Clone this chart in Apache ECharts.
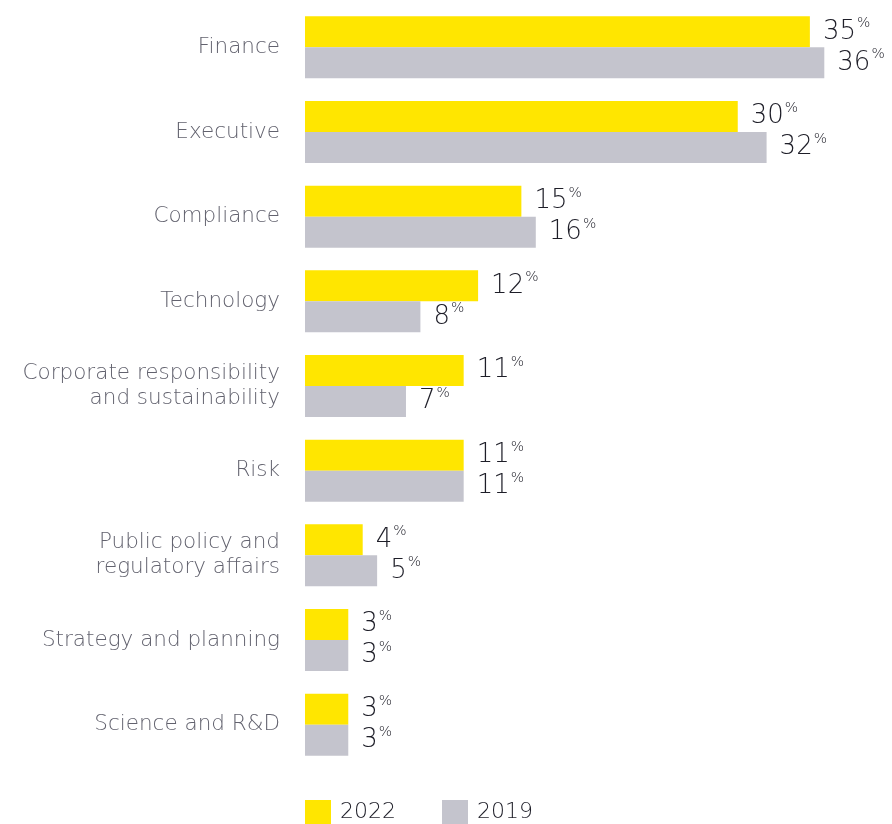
<!DOCTYPE html>
<html><head><meta charset="utf-8">
<script src="https://cdn.jsdelivr.net/npm/echarts@6/dist/echarts.min.js"></script>
<style>html,body{margin:0;padding:0;background:#fff}#c{width:892px;height:824px}</style>
</head><body><div id="c"></div>
<script>
const categories = ["Finance","Executive","Compliance","Technology","Corporate responsibility\nand sustainability","Risk","Public policy and\nregulatory affairs","Strategy and planning","Science and R&D"];
const values2022 = [35,30,15,12,11,11,4,3,3];
const values2019 = [36,32,16,8,7,11,5,3,3];
const seriesNames = ["2022","2019"];

const FONT = "'DejaVu Sans', sans-serif";
const labelCfg = {
  show: true, position: 'right', distance: 13,
  formatter: p => '{n|' + p.value + '}{p|%}',
  rich: {
    n: {fontSize: 26, color: '#1e1e28', fontFamily: FONT, fontWeight: 300, lineHeight: 30},
    p: {fontSize: 14, color: '#1e1e28', fontFamily: FONT, fontWeight: 300, verticalAlign: 'top', lineHeight: 30, padding: [0,0,10,1]}
  }
};
const chart = echarts.init(document.getElementById('c'));
chart.setOption({
  animation: false,
  grid: {left: 305, right: 10, top: 5, bottom: 57, containLabel: false},
  legend: {
    bottom: 0, left: 305, padding: 0, itemWidth: 26, itemHeight: 24, itemGap: 46, icon: 'rect',
    textStyle: {fontSize: 22, color: '#1e1e28', fontFamily: FONT, fontWeight: 300, padding: [0,0,0,4]},
    data: seriesNames
  },
  xAxis: {type: 'value', min: 0, max: 40, show: false},
  yAxis: {
    type: 'category', inverse: true, data: categories,
    axisLine: {show: false}, axisTick: {show: false},
    axisLabel: {fontSize: 21.5, color: '#62626e', fontFamily: FONT, fontWeight: 300, margin: 25, lineHeight: 25, align: 'right'}
  },
  series: [
    {name: seriesNames[0], type: 'bar', data: values2022, barWidth: 31, barGap: '0%', itemStyle: {color: '#FFE600'}, label: labelCfg},
    {name: seriesNames[1], type: 'bar', data: values2019, barWidth: 31, barGap: '0%', itemStyle: {color: '#C4C4CD'}, label: labelCfg}
  ]
});
</script></body></html>
